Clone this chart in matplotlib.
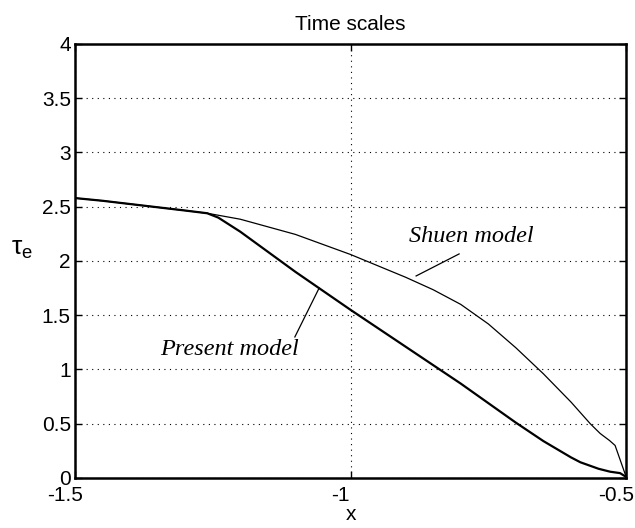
import matplotlib
matplotlib.use("Agg")
import matplotlib.pyplot as plt
import matplotlib.transforms as mtransforms
import numpy as np

plt.rcParams['font.family'] = ['Liberation Sans', 'DejaVu Sans']
plt.rcParams['mathtext.fontset'] = 'custom'
plt.rcParams['mathtext.rm'] = 'Liberation Sans'

# tau_e vs x for the two models
x_shuen = [-1.5, -1.45, -1.4, -1.35, -1.3, -1.26, -1.2, -1.1, -1.0, -0.95,
           -0.9, -0.85, -0.8, -0.75, -0.7, -0.65, -0.6, -0.565, -0.547,
           -0.53, -0.52, -0.511, -0.502, -0.5]
tau_shuen = [2.58, 2.555, 2.525, 2.495, 2.465, 2.44, 2.385, 2.245, 2.06, 1.955,
             1.85, 1.735, 1.60, 1.42, 1.20, 0.96, 0.70, 0.50, 0.41,
             0.345, 0.30, 0.17, 0.04, 0.01]

x_present = [-1.5, -1.45, -1.4, -1.35, -1.3, -1.26, -1.24, -1.2, -1.1, -1.0,
             -0.9, -0.8, -0.75, -0.7, -0.65, -0.6, -0.583, -0.55, -0.529,
             -0.511, -0.5]
tau_present = [2.58, 2.555, 2.525, 2.495, 2.465, 2.44, 2.40, 2.27, 1.90, 1.55,
               1.21, 0.87, 0.69, 0.51, 0.34, 0.19, 0.145, 0.085, 0.058,
               0.045, 0.01]

xticks = [-1.5, -1, -0.5]
xtick_labels = ['-1.5', '-1', '-0.5']
yticks = np.arange(0, 4.01, 0.5)
ytick_labels = ['0', '0.5', '1', '1.5', '2', '2.5', '3', '3.5', '4']

fig = plt.figure(figsize=(6.35, 5.28), dpi=100)
ax = fig.add_axes([0.118, 0.0947, 0.868, 0.822])

ax.plot(x_shuen, tau_shuen, color='black', lw=0.9)
ax.plot(x_present, tau_present, color='black', lw=1.6)

# labels with leader lines
ax.text(-0.780, 2.23, 'Shuen model', family='Liberation Serif', style='italic',
        fontsize=17.5, ha='center', va='center')
ax.plot([-0.803, -0.881], [2.065, 1.862], color='black', lw=0.9)
ax.text(-1.219, 1.18, 'Present model', family='Liberation Serif', style='italic',
        fontsize=17.5, ha='center', va='center')
ax.plot([-1.101, -1.057], [1.30, 1.75], color='black', lw=0.9)

ax.set_xlim(-1.5, -0.5)
ax.set_ylim(0, 4)
ax.set_xticks(xticks)
ax.set_xticklabels(xtick_labels)
ax.set_yticks(yticks)
ax.set_yticklabels(ytick_labels)
ax.grid(True, linestyle=(0, (1, 4)), color='black', lw=0.8)
ax.tick_params(direction='in', top=True, right=True, length=5, width=1,
               labelsize=15, pad=3)
ax.tick_params(axis='x', pad=6)
for s in ax.spines.values():
    s.set_linewidth(1.8)

# x tick labels sit a little left of their ticks
shift = mtransforms.ScaledTranslation(-0.1, 0, fig.dpi_scale_trans)
for lbl in ax.get_xticklabels():
    lbl.set_transform(lbl.get_transform() + shift)

ax.set_title('Time scales', fontsize=15, pad=10)
ax.set_xlabel('x', fontsize=15, labelpad=0)
ax.set_ylabel(r'$\mathregular{\tau_e}$', fontsize=19, rotation=0, labelpad=14)

fig.savefig('out.png', dpi=100)
